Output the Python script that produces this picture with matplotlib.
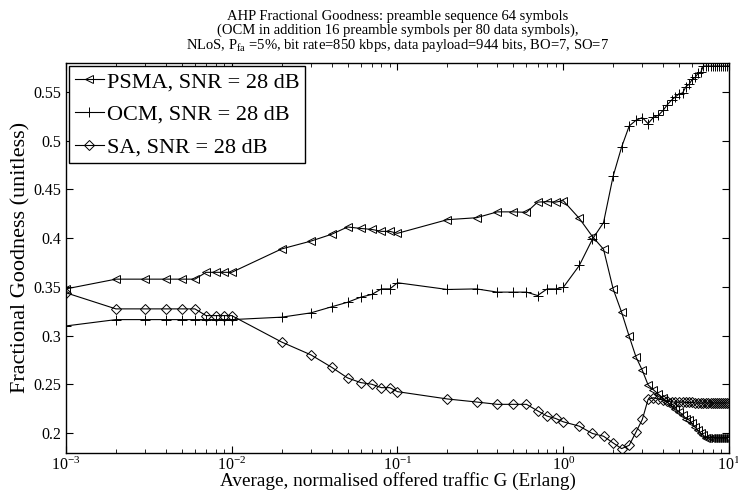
import matplotlib
matplotlib.use("Agg")
import matplotlib.pyplot as plt
from matplotlib.ticker import FormatStrFormatter, LogLocator

plt.rcParams['font.family'] = ['Liberation Serif', 'DejaVu Serif']
plt.rcParams['mathtext.fontset'] = 'custom'
plt.rcParams['mathtext.rm'] = 'Liberation Serif'
plt.rcParams['mathtext.it'] = 'Liberation Serif:italic'

traffic_G = [0.001, 0.002, 0.003, 0.004, 0.005, 0.006, 0.007, 0.008, 0.009, 0.01,
             0.02, 0.03, 0.04, 0.05, 0.06, 0.07, 0.08, 0.09, 0.1,
             0.2, 0.3, 0.4, 0.5, 0.6, 0.7, 0.8, 0.9, 1.0,
             1.25, 1.5, 1.75, 2.0, 2.25, 2.5, 2.75, 3.0, 3.25, 3.5, 3.75, 4.0,
             4.25, 4.5, 4.75, 5.0, 5.25, 5.5, 5.75, 6.0, 6.25, 6.5, 6.75, 7.0,
             7.25, 7.5, 7.75, 8.0, 8.25, 8.5, 8.75, 9.0, 9.25, 9.5, 9.75, 10.0]

psma = [0.348, 0.358, 0.358, 0.358, 0.358, 0.358, 0.365, 0.365, 0.365, 0.365,
        0.389, 0.397, 0.404, 0.4115, 0.410, 0.409, 0.407, 0.407, 0.405,
        0.419, 0.421, 0.427, 0.427, 0.4265, 0.437, 0.4375, 0.437, 0.4385,
        0.4203, 0.4017, 0.3887, 0.348, 0.324, 0.2993, 0.278, 0.2645, 0.2495, 0.2445, 0.240, 0.236,
        0.232, 0.228, 0.225, 0.222, 0.219, 0.215, 0.2135, 0.210, 0.206, 0.203, 0.200, 0.198,
        0.1955, 0.1955, 0.1955, 0.1955, 0.1955, 0.1955, 0.1955, 0.1955, 0.1955, 0.1955, 0.1955, 0.1955]

ocm = [0.310, 0.3165, 0.3165, 0.3165, 0.3165, 0.3165, 0.3165, 0.3165, 0.3165, 0.3165,
       0.319, 0.3234, 0.3296, 0.3343, 0.3395, 0.3423, 0.348, 0.348, 0.3543,
       0.3474, 0.348, 0.3447, 0.3447, 0.3447, 0.3412, 0.348, 0.348, 0.3495,
       0.372, 0.399, 0.416, 0.4636, 0.4935, 0.5151, 0.521, 0.5237, 0.5175, 0.524, 0.526, 0.531,
       0.537, 0.5416, 0.545, 0.548, 0.549, 0.5554, 0.558, 0.5629, 0.565, 0.569, 0.570, 0.5766,
       0.5766, 0.5766, 0.5766, 0.5766, 0.5766, 0.5766, 0.5766, 0.5766, 0.5766, 0.5766, 0.5766, 0.5766]

sa = [0.344, 0.3275, 0.3275, 0.3275, 0.3275, 0.3275, 0.3206, 0.3206, 0.3206, 0.3206,
      0.2935, 0.2804, 0.2677, 0.2567, 0.2519, 0.2502, 0.2467, 0.2467, 0.2426,
      0.2351, 0.232, 0.2296, 0.2296, 0.2296, 0.223, 0.2175, 0.2151, 0.2117,
      0.2072, 0.1997, 0.1969, 0.190, 0.1842, 0.1876, 0.2013, 0.2141, 0.2347, 0.2364, 0.235, 0.234,
      0.233, 0.232, 0.232, 0.232, 0.232, 0.2315, 0.2315, 0.2315, 0.231, 0.231, 0.231, 0.231,
      0.231, 0.231, 0.231, 0.231, 0.231, 0.231, 0.231, 0.231, 0.231, 0.231, 0.231, 0.231]

labels = ['PSMA, SNR = 28 dB', 'OCM, SNR = 28 dB', 'SA, SNR = 28 dB']
title_lines = ['AHP Fractional Goodness: preamble sequence 64 symbols',
               '(OCM in addition 16 preamble symbols per 80 data symbols),',
               r'NLoS, P$_{\mathrm{fa}}$ =5%, bit rate=850 kbps, data payload=944 bits, BO=7, SO=7']

fig = plt.figure(figsize=(7.38, 4.96), dpi=100)
ax = fig.add_axes([0.0894, 0.0873, 0.8984, 0.7863])

lw = 0.8
ax.plot(traffic_G, psma, color='black', lw=lw, marker='<', ms=5.8, mfc='none', mew=0.7, label=labels[0])
ax.plot(traffic_G, ocm, color='black', lw=lw, marker='+', ms=6.5, mew=0.7, label=labels[1])
ax.plot(traffic_G, sa, color='black', lw=lw, marker='D', ms=5.0, mfc='none', mew=0.7, label=labels[2])

ax.set_xscale('log')
ax.set_xlim(1e-3, 10)
ax.set_ylim(0.18, 0.58)
ax.set_yticks([0.2, 0.25, 0.3, 0.35, 0.4, 0.45, 0.5, 0.55])
ax.yaxis.set_major_formatter(FormatStrFormatter('%g'))
ax.xaxis.set_major_locator(LogLocator(base=10, numticks=10))
ax.xaxis.set_minor_locator(LogLocator(base=10, subs=range(2, 10), numticks=20))

ax.tick_params(which='both', direction='in', top=True, right=True, labelsize=11.5)
ax.tick_params(which='major', length=5, width=0.8)
ax.tick_params(which='minor', length=3, width=0.6)
ax.tick_params(axis='x', which='major', pad=3)
for s in ax.spines.values():
    s.set_linewidth(1.0)

ax.set_ylabel('Fractional Goodness (unitless)', fontsize=16, labelpad=2)
ax.set_xlabel('Average, normalised offered traffic G (Erlang)', fontsize=13.8, labelpad=-1.5)
ax.set_title('\n'.join(title_lines), fontsize=10.5, linespacing=1.06, pad=9.5)

leg = ax.legend(loc='upper left', fontsize=16, handlelength=1.3, handletextpad=0.15,
                labelspacing=0.55, borderpad=0.25, borderaxespad=0.15, fancybox=False,
                framealpha=1, edgecolor='black')
leg.get_frame().set_linewidth(1.0)

fig.savefig('out.png', dpi=100)
